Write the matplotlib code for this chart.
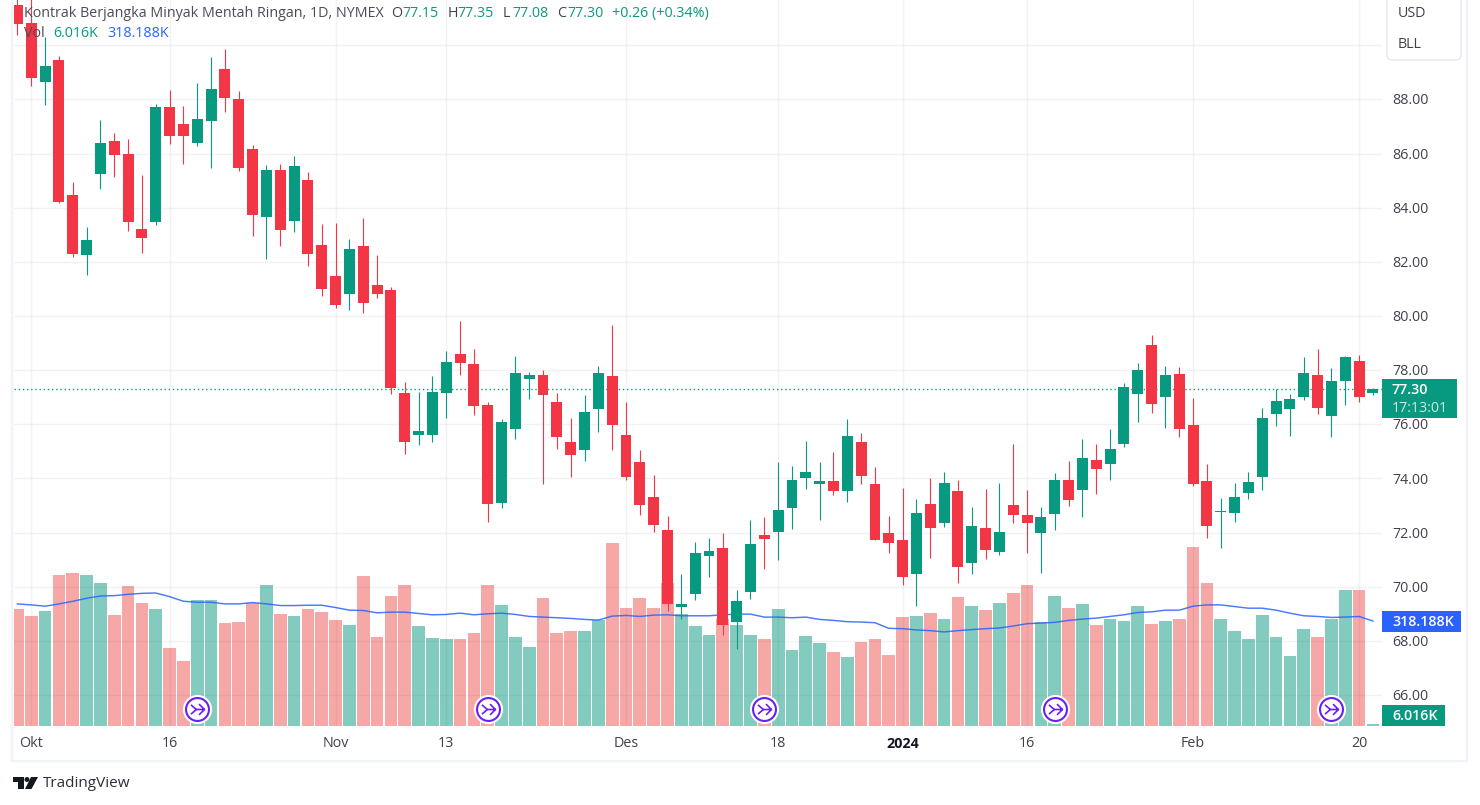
import matplotlib
matplotlib.use("Agg")
import matplotlib.pyplot as plt
from matplotlib.patches import Rectangle, FancyBboxPatch, Polygon, Circle
from matplotlib.path import Path

# daily candles, oldest first
opens = [91.5, 90.83, 88.65, 89.45, 84.47, 82.25, 85.24, 86.46, 85.98, 83.21,
         83.47, 87.72, 87.09, 86.39, 87.20, 89.12, 88.01, 86.17, 83.66, 85.39,
         83.51, 85.02, 82.62, 81.48, 80.81, 82.58, 81.14, 80.96, 77.14, 75.62,
         75.59, 77.14, 78.58, 78.21, 76.73, 73.11, 75.81, 77.66, 77.81, 76.81,
         75.33, 75.07, 76.55, 77.77, 75.62, 74.62, 73.33, 72.11, 69.26, 69.74,
         71.15, 71.44, 68.71, 69.81, 71.92, 72.02, 72.91, 74.02, 73.80, 73.91,
         73.54, 75.35, 73.80, 71.99, 71.73, 70.47, 73.06, 72.35, 73.54, 70.88,
         72.17, 71.28, 73.02, 72.65, 71.99, 72.69, 73.94, 73.57, 74.68, 74.53,
         75.27, 77.11, 78.92, 77.00, 77.85, 75.97, 73.90, 72.75, 72.72, 73.46,
         74.05, 76.37, 76.56, 77.00, 77.82, 76.30, 77.59, 78.33, 77.15]
highs = [92.0, 91.80, 90.29, 89.60, 84.95, 83.29, 87.24, 86.76, 86.54, 85.21,
         87.83, 88.34, 87.75, 88.60, 89.56, 89.86, 88.31, 86.31, 85.58, 85.61,
         85.91, 85.32, 83.40, 83.43, 82.84, 83.62, 82.25, 81.07, 77.55, 77.18,
         77.77, 78.69, 79.80, 78.80, 76.84, 76.21, 78.51, 77.95, 77.99, 77.14,
         76.25, 77.07, 78.14, 79.65, 76.81, 75.07, 74.14, 72.63, 70.48, 71.66,
         71.81, 72.00, 69.89, 72.48, 72.59, 74.61, 74.46, 75.38, 74.61, 74.98,
         76.20, 75.68, 74.42, 72.61, 73.65, 73.24, 74.02, 74.24, 73.94, 72.95,
         73.61, 73.83, 75.27, 73.57, 72.95, 74.20, 74.65, 75.46, 75.27, 75.82,
         77.52, 78.26, 79.29, 78.15, 78.11, 76.97, 74.53, 73.27, 73.83, 74.23,
         76.60, 77.30, 77.11, 78.48, 78.78, 78.07, 78.52, 78.55, 77.35]
lows = [90.39, 88.49, 87.80, 84.17, 82.18, 81.51, 84.69, 85.13, 83.14, 82.33,
        83.36, 86.35, 85.61, 86.28, 85.46, 87.53, 85.35, 82.95, 82.10, 82.58,
        83.10, 81.85, 80.74, 80.30, 80.22, 80.11, 80.66, 77.12, 74.92, 75.25,
        75.33, 76.25, 77.81, 76.33, 72.40, 72.92, 75.44, 76.95, 73.81, 75.10,
        74.07, 74.66, 75.70, 75.07, 73.96, 72.66, 72.03, 69.11, 68.82, 69.52,
        70.37, 68.22, 67.71, 69.56, 70.67, 70.99, 72.13, 73.61, 72.47, 73.39,
        73.13, 73.80, 71.73, 71.25, 70.06, 69.29, 71.06, 72.21, 70.14, 70.47,
        71.02, 71.17, 72.35, 71.25, 70.51, 72.10, 72.98, 72.58, 73.43, 73.94,
        75.16, 76.08, 76.41, 75.86, 75.52, 73.71, 71.79, 71.42, 72.38, 73.23,
        73.57, 75.93, 75.56, 76.89, 76.37, 75.52, 76.71, 76.82, 77.08]
closes = [90.79, 88.79, 89.23, 84.21, 82.29, 82.81, 86.39, 85.94, 83.47, 82.88,
          87.72, 86.65, 86.65, 87.27, 88.38, 88.05, 85.46, 83.73, 85.39, 83.18,
          85.54, 82.29, 81.00, 80.41, 82.47, 80.48, 80.81, 77.34, 75.33, 75.77,
          77.21, 78.29, 78.25, 76.66, 73.07, 76.07, 77.88, 77.81, 77.10, 75.55,
          74.85, 76.44, 77.88, 75.96, 74.07, 73.03, 72.29, 69.37, 69.37, 71.26,
          71.33, 68.59, 69.48, 71.59, 71.78, 72.83, 73.94, 74.24, 73.91, 73.54,
          75.57, 74.09, 71.73, 71.62, 70.36, 72.72, 72.17, 73.83, 70.73, 72.24,
          71.36, 72.02, 72.65, 72.35, 72.58, 73.94, 73.20, 74.76, 74.35, 75.08,
          77.37, 78.00, 76.74, 77.82, 75.82, 73.79, 72.24, 72.79, 73.31, 73.86,
          76.23, 76.85, 76.93, 77.89, 76.60, 77.59, 78.48, 77.00, 77.30]

# volume in thousands
volume = [354, 333, 348, 458, 464, 458, 433, 336, 424, 373,
          354, 236, 197, 382, 382, 312, 315, 373, 427, 339,
          333, 354, 345, 321, 306, 455, 270, 394, 427, 303,
          267, 264, 264, 282, 427, 367, 270, 239, 388, 282,
          288, 288, 321, 554, 358, 388, 358, 433, 339, 303,
          276, 324, 306, 276, 264, 354, 230, 273, 251, 224,
          209, 255, 264, 215, 330, 333, 342, 324, 391, 364,
          351, 373, 403, 427, 315, 394, 358, 370, 306, 324,
          318, 364, 309, 318, 324, 542, 433, 324, 288, 264,
          336, 270, 212, 294, 270, 324, 412, 412, 6.016]
volume_ma = [370, 367, 363, 370, 378, 387, 394, 395, 399, 402,
             403, 392, 378, 375, 375, 370, 370, 374, 370, 365,
             365, 366, 366, 359, 351, 350, 343, 345, 345, 341,
             337, 338, 342, 337, 340, 342, 338, 332, 330, 328,
             326, 323, 321, 333, 335, 332, 336, 337, 334, 334,
             334, 337, 339, 339, 330, 330, 328, 330, 323, 320,
             316, 315, 313, 296, 295, 291, 289, 285, 289, 292,
             295, 297, 303, 310, 312, 314, 320, 324, 327, 332,
             337, 344, 346, 351, 351, 363, 367, 367, 362, 357,
             357, 351, 342, 334, 332, 329, 330, 332, 318.188]

date_ticks = [1, 11, 23, 31, 44, 55, 64, 73, 85, 97]
date_labels = ['Okt', '16', 'Nov', '13', 'Des', '18', '2024', '16', 'Feb', '20']
price_ticks = [66, 68, 70, 72, 74, 76, 78, 80, 82, 84, 86, 88]
event_bars = [13, 34, 54, 75, 95]

GREEN = '#089981'
RED = '#F23645'
BLUE = '#2962FF'
PURPLE = '#6A1FF5'
FRAME = '#F0F3FA'
TEXT = '#3F424D'

plt.rcParams['font.family'] = 'Open Sans'

W, H = 1480, 805
fig = plt.figure(figsize=(W / 100, H / 100), dpi=100, facecolor='white')

def px_axes(left, top, right, bottom):
    return [left / W, 1 - bottom / H, (right - left) / W, (bottom - top) / H]

# volume sits under the price pane, same box
ax_vol = fig.add_axes(px_axes(14, 0, 1382, 726), zorder=1)
ax = fig.add_axes(px_axes(14, 0, 1382, 726), zorder=2, sharex=ax_vol)
ax.patch.set_alpha(0)

x = list(range(len(closes)))
up = [c >= o for o, c in zip(opens, closes)]

ax_vol.bar(x, volume, width=0.92, color=[GREEN if u else '#EF5350' for u in up], alpha=0.5, linewidth=0)
ax_vol.plot(x, volume_ma, color=BLUE, lw=1.05, alpha=0.85)
ax_vol.set_ylim(0, 2200)
ax_vol.set_xlim(-0.25, 98.66)
ax_vol.axis('off')

colors = [GREEN if u else RED for u in up]
ax.vlines(x, lows, highs, colors=colors, lw=0.8, zorder=3)
tops = [max(o, c) for o, c in zip(opens, closes)]
bots = [min(o, c) for o, c in zip(opens, closes)]
heights = [max(t - b, 0.05) for t, b in zip(tops, bots)]
ax.bar(x, heights, bottom=bots, width=0.79, color=colors, linewidth=0, zorder=4)

ax.set_ylim(64.86, 91.67)
ax.set_yticks(price_ticks + [90])
ax.set_xticks(date_ticks)
ax.grid(True, color='#2A2E39', alpha=0.06, lw=1, zorder=0)
ax.set_axisbelow(True)
ax.tick_params(length=0, labelleft=False, labelbottom=False)
for s in ax.spines.values():
    s.set_visible(False)

# current price line
ax.axhline(closes[-1], color=GREEN, lw=1.0, ls=(0, (1, 2)), zorder=2)

# event badges along the bottom of the pane
tr = ax.get_xaxis_transform()
arrow = Path([(-0.85, 0.6), (-0.15, 0), (-0.85, -0.6), (-0.15, 0), (0.9, 0), (0.2, 0.7), (0.9, 0), (0.2, -0.7)],
             [Path.MOVETO, Path.LINETO, Path.LINETO, Path.MOVETO, Path.LINETO, Path.MOVETO, Path.LINETO, Path.LINETO])
for i in event_bars:
    ax.plot([i], [0.0234], transform=tr, marker='o', ms=20, mfc='white', mec='white', zorder=6, clip_on=False)
    ax.plot([i], [0.0234], transform=tr, marker='o', ms=16.5, mfc='white', mec=PURPLE, mew=1.5, zorder=7, clip_on=False)
    ax.plot([i], [0.0234], transform=tr, marker=arrow, ms=10, mfc='none', mec=PURPLE, mew=1.2, zorder=8, clip_on=False)

# chrome in pixel coordinates
ov = fig.add_axes([0, 0, 1, 1], zorder=5)
ov.set_xlim(0, W)
ov.set_ylim(H, 0)
ov.axis('off')
ov.patch.set_alpha(0)

ov.add_patch(Rectangle((12, -5), 1455, 766, fill=False, ec=FRAME, lw=1.6))

def txt(px, py, s, **kw):
    kw.setdefault('fontsize', 10.3)
    kw.setdefault('color', TEXT)
    kw.setdefault('va', 'center')
    return ov.text(px, py + 1.6, s, **kw)

# price scale
for p in price_ticks:
    py = 99.3 + (88 - p) * 27.08
    txt(1392, py, f'{p:.2f}')

# date scale
for i, lab in zip(date_ticks, date_labels):
    px = 17.5 + 13.83 * i
    txt(px, 742, lab, ha='center', fontweight='bold' if lab == '2024' else 'normal',
        color='#131722' if lab == '2024' else TEXT)

# last value tags
ov.add_patch(Rectangle((1382, 379), 75, 39, fc=GREEN, ec='none'))
txt(1392, 388.5, f'{closes[-1]:.2f}', color='white', fontweight='semibold')
txt(1392, 406.5, '17:13:01', color='#CDEBE5')
ov.add_patch(Rectangle((1382, 611), 79, 21, fc=BLUE, ec='none'))
txt(1392, 620, '318.188K', color='white', fontweight='semibold')
ov.add_patch(Rectangle((1382, 705), 63, 21, fc=GREEN, ec='none'))
txt(1392, 714, '6.016K', color='white', fontweight='semibold')

# currency / unit box
ov.add_patch(FancyBboxPatch((1387, -10), 74, 70, boxstyle='round,pad=0,rounding_size=5',
                            fc='white', ec='#E6E8EE', lw=1))
txt(1398, 12, 'USD')
txt(1398, 43, 'BLL')

# legend lines
txt(24, 11.5, 'Kontrak Berjangka Minyak Mentah Ringan, 1D, NYMEX', color='#4A4C57')
parts = [(391, 'O', TEXT), (402, '77.15', GREEN), (448, 'H', TEXT), (457, '77.35', GREEN),
         (503, 'L', TEXT), (512, '77.08', GREEN), (557, 'C', TEXT), (567, '77.30', GREEN),
         (612, '+0.26 (+0.34%)', GREEN)]
for px, s, c in parts:
    txt(px, 11.5, s, color=c)
txt(24, 31.5, 'Vol', color='#4A4C57')
txt(53, 31.5, '6.016K', color=GREEN)
txt(107, 31.5, '318.188K', color=BLUE)

# TradingView wordmark
ov.add_patch(Polygon([(13, 777), (24, 777), (24, 789), (18, 789), (18, 782), (13, 782)], fc='#131722', ec='none'))
ov.add_patch(Circle((27, 779.5), 2.5, fc='#131722', ec='none'))
ov.add_patch(Polygon([(31, 777), (38, 777), (31.5, 789), (25, 789)], fc='#131722', ec='none'))
txt(43, 782, 'TradingView', fontsize=11, color='#2A2E39')

fig.savefig('out.png', dpi=100)
